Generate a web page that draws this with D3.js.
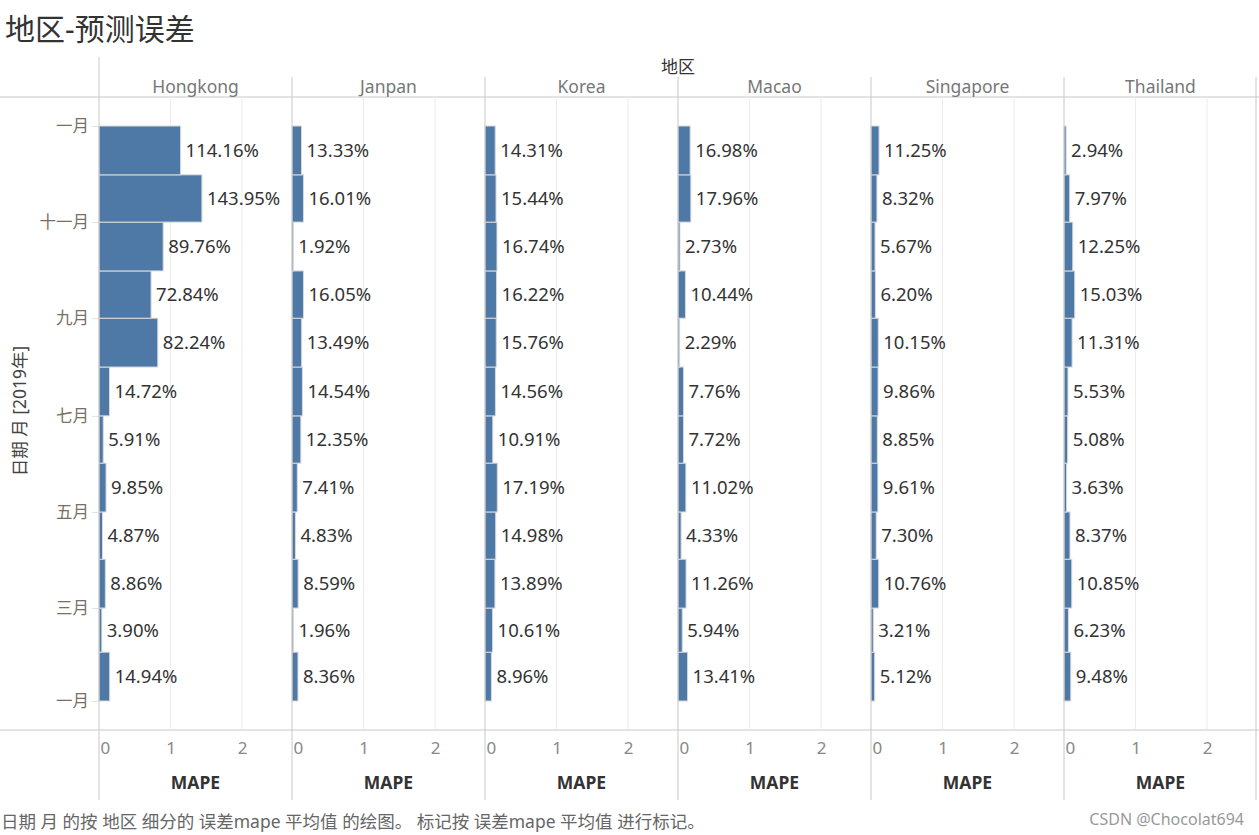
<!DOCTYPE html>
<html>
<head>
<meta charset="utf-8">
<script src="https://cdn.jsdelivr.net/npm/d3@7"></script>
<style>
  body { margin: 0; background: #fff; }
  svg text { font-family: "Noto Sans", "Noto Sans CJK SC", sans-serif; }
</style>
</head>
<body>
<div id="chart"></div>
<script>
// regions (columns) and months (rows, Jan..Dec 2019)
var regions = ["Hongkong", "Janpan", "Korea", "Macao", "Singapore", "Thailand"];
var months = [1, 2, 3, 4, 5, 6, 7, 8, 9, 10, 11, 12];

// MAPE per region, Jan..Dec
var hongkong  = [0.1494, 0.0390, 0.0886, 0.0487, 0.0985, 0.0591, 0.1472, 0.8224, 0.7284, 0.8976, 1.4395, 1.1416];
var janpan    = [0.0836, 0.0196, 0.0859, 0.0483, 0.0741, 0.1235, 0.1454, 0.1349, 0.1605, 0.0192, 0.1601, 0.1333];
var korea     = [0.0896, 0.1061, 0.1389, 0.1498, 0.1719, 0.1091, 0.1456, 0.1576, 0.1622, 0.1674, 0.1544, 0.1431];
var macao     = [0.1341, 0.0594, 0.1126, 0.0433, 0.1102, 0.0772, 0.0776, 0.0229, 0.1044, 0.0273, 0.1796, 0.1698];
var singapore = [0.0512, 0.0321, 0.1076, 0.0730, 0.0961, 0.0885, 0.0986, 0.1015, 0.0620, 0.0567, 0.0832, 0.1125];
var thailand  = [0.0948, 0.0623, 0.1085, 0.0837, 0.0363, 0.0508, 0.0553, 0.1131, 0.1503, 0.1225, 0.0797, 0.0294];

var seriesList = [hongkong, janpan, korea, macao, singapore, thailand];

var xTicks = [0, 1, 2];
var monthNames = ["一月", "二月", "三月", "四月", "五月", "六月", "七月", "八月", "九月", "十月", "十一月", "十二月"];

var svgWidth = 1259, svgHeight = 835;
var left = 99, panelW = 193;
var plotTop = 97, plotBottom = 730;

var svg = d3.select("#chart").append("svg")
  .attr("width", svgWidth)
  .attr("height", svgHeight);

// title
svg.append("text")
  .attr("x", 5).attr("y", 40)
  .attr("font-size", 30)
  .attr("fill", "#333")
  .text("地区-预测误差");

// time scale, reversed (Jan 2019 at bottom)
var y = d3.scaleTime()
  .domain([new Date(2019, 0, 1), new Date(2020, 0, 1)])
  .range([701, 126]);

var x = d3.scaleLinear()
  .domain([0, panelW / 71.5])
  .range([0, panelW]);

// horizontal frame lines
svg.append("line").attr("x1", 0).attr("x2", svgWidth).attr("y1", plotTop).attr("y2", plotTop)
  .attr("stroke", "#c8c8c8");
svg.append("line").attr("x1", 0).attr("x2", svgWidth).attr("y1", plotBottom).attr("y2", plotBottom)
  .attr("stroke", "#c8c8c8");

// header
svg.append("text")
  .attr("x", left + panelW * regions.length / 2).attr("y", 73)
  .attr("text-anchor", "middle")
  .attr("font-size", 17).attr("fill", "#333")
  .text("地区");

// y axis
var yAxis = svg.append("g")
  .attr("transform", `translate(${left}, 0)`)
  .call(d3.axisLeft(y)
    .ticks(d3.timeMonth.every(2))
    .tickSize(7)
    .tickPadding(3)
    .tickFormat(d => monthNames[d.getMonth()]));
yAxis.select(".domain").remove();
yAxis.selectAll(".tick line").attr("stroke", "#e0e0e0");
yAxis.selectAll(".tick text")
  .attr("font-size", 16.5)
  .attr("fill", "#7a6f64")
  .style("font-family", "'Noto Sans CJK SC', sans-serif");

svg.append("text")
  .attr("transform", "rotate(-90)")
  .attr("x", -411).attr("y", 26)
  .attr("text-anchor", "middle")
  .attr("font-size", 17.5).attr("fill", "#444")
  .text("日期 月 [2019年]");

regions.forEach(function (name, i) {
  var x0 = left + i * panelW;
  var g = svg.append("g").attr("transform", `translate(${x0}, 0)`);
  var values = seriesList[i];

  // panel name
  g.append("text")
    .attr("x", panelW / 2).attr("y", 93)
    .attr("text-anchor", "middle")
    .attr("font-size", 17.5).attr("fill", "#777")
    .text(name);

  // gridlines
  g.selectAll(".grid")
    .data(xTicks.slice(1))
    .enter()
    .append("line")
    .attr("x1", d => x(d)).attr("x2", d => x(d))
    .attr("y1", plotTop).attr("y2", plotBottom)
    .attr("stroke", "#ececec");

  // bars
  g.selectAll("rect")
    .data(months)
    .enter()
    .append("rect")
    .attr("x", 0)
    .attr("y", d => y(new Date(2019, d, 1)))
    .attr("width", (d, j) => Math.max(x(values[j]), 1))
    .attr("height", d => y(new Date(2019, d - 1, 1)) - y(new Date(2019, d, 1)))
    .attr("fill", "#4e79a7")
    .attr("stroke", "#d9d9d9")
    .attr("stroke-width", 1);

  // labels
  g.selectAll(".lbl")
    .data(months)
    .enter()
    .append("text")
    .attr("x", (d, j) => x(values[j]) + 5)
    .attr("y", d => (y(new Date(2019, d, 1)) + y(new Date(2019, d - 1, 1))) / 2)
    .attr("dy", "0.36em")
    .attr("font-size", 18.5).attr("fill", "#333")
    .text((d, j) => d3.format(".2%")(values[j]));

  // bottom axis
  var xAxis = g.append("g")
    .attr("transform", `translate(0, ${plotBottom})`)
    .call(d3.axisBottom(x).tickValues(xTicks).tickSize(0).tickPadding(12).tickFormat(d3.format("d")));
  xAxis.select(".domain").remove();
  xAxis.selectAll(".tick text").attr("font-size", 17).attr("fill", "#888");
  xAxis.selectAll(".tick").filter(d => d === 0).select("text").attr("text-anchor", "start").attr("x", 1);

  g.append("text")
    .attr("x", panelW / 2).attr("y", 789)
    .attr("text-anchor", "middle")
    .attr("font-size", 17.5).attr("font-weight", "bold").attr("fill", "#333")
    .text("MAPE");

  // panel separator
  g.append("line")
    .attr("x1", 0).attr("x2", 0)
    .attr("y1", i === 0 ? 57 : 77).attr("y2", 800)
    .attr("stroke", "#c8c8c8");
});

// right border
svg.append("line")
  .attr("x1", left + panelW * regions.length - 1).attr("x2", left + panelW * regions.length - 1)
  .attr("y1", 77).attr("y2", 800)
  .attr("stroke", "#c8c8c8");

// footer
svg.append("text")
  .attr("x", 1).attr("y", 828)
  .attr("font-size", 17.5).attr("fill", "#666")
  .text("日期 月 的按 地区 细分的 误差mape 平均值 的绘图。 标记按 误差mape 平均值 进行标记。");

svg.append("text")
  .attr("x", 1244).attr("y", 825)
  .attr("text-anchor", "end")
  .attr("font-size", 16).attr("fill", "#999")
  .text("CSDN @Chocolat694");
</script>
</body>
</html>
